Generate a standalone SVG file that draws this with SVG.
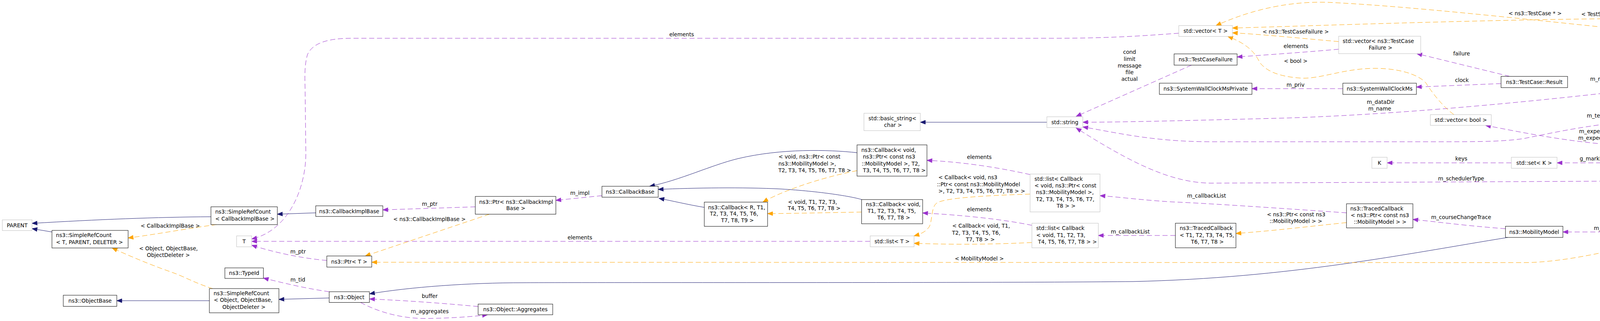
<svg xmlns="http://www.w3.org/2000/svg" width="5416" height="822" viewBox="0 0 5416 822">
<style>
text{font-family:"DejaVu Sans","Liberation Sans",sans-serif;font-size:13.6px;fill:#000}
.m{text-anchor:middle}
rect.b{fill:#fff;stroke:#000;stroke-width:1}
rect.g{fill:#fff;stroke:#bfbfbf;stroke-width:1}
rect.h{fill:#bfbfbf;stroke:#000;stroke-width:1}
path.inh{fill:none;stroke:#191970;stroke-width:1;marker-end:url(#ai)}
path.use{fill:none;stroke:#9a32cd;stroke-width:1;stroke-dasharray:13,7;marker-end:url(#au)}
path.tpl{fill:none;stroke:#ffa500;stroke-width:1;stroke-dasharray:13,7;marker-end:url(#at)}
</style>
<defs>
<marker id="ai" markerWidth="14" markerHeight="11" refX="13" refY="5" orient="auto" markerUnits="userSpaceOnUse" overflow="visible"><path d="M0,0 L13,5 L0,10 z" fill="#191970" stroke="#191970" stroke-width="1" stroke-dasharray="none"/></marker>
<marker id="au" markerWidth="14" markerHeight="11" refX="13" refY="5" orient="auto" markerUnits="userSpaceOnUse" overflow="visible"><path d="M0,0 L13,5 L0,10 z" fill="#9a32cd" stroke="#9a32cd" stroke-width="1" stroke-dasharray="none"/></marker>
<marker id="at" markerWidth="14" markerHeight="11" refX="13" refY="5" orient="auto" markerUnits="userSpaceOnUse" overflow="visible"><path d="M0,0 L13,5 L0,10 z" fill="#ffa500" stroke="#ffa500" stroke-width="1" stroke-dasharray="none"/></marker>
</defs>
<rect x="0" y="0" width="5416" height="822" fill="#fff"/>
<g id="connectors">
<path class="inh" d="M540,555 C400,556 250,562 82,572"/>
<path class="inh" d="M133,594 L82,585.5"/>
<path class="inh" d="M536,770 L299,770"/>
<path class="inh" d="M808.3,545 L710,548.5"/>
<path class="inh" d="M842.7,763 L714,766.6"/>
<path class="inh" d="M2194,391 C2120,383 2000,380 1890,406 C1820,423 1740,462 1663,477"/>
<path class="inh" d="M2206,511 C2180,503 2100,490 2000,484 C1900,479 1780,481 1685,485"/>
<path class="inh" d="M1803,531 C1760,524 1720,514 1687,508"/>
<path class="inh" d="M3860,608 C3600,650 3300,712 2900,721 C2500,725 1500,723 1340,724 C1200,724 1050,735 946,752.5"/>
<path class="inh" d="M4605.7,244 L4343,224.4"/>
<path class="inh" d="M4638,402.7 L4318,229"/>
<path class="inh" d="M4901,417 L4741.7,417"/>
<path class="inh" d="M2680,313 L2356,313"/>

<path class="use" d="M3017.7,85 C2950,90 2850,98 2700,98 L900,98 C840,98 800,110 787,140 C780,165 780,190 781,225 L783,393 C783,480 740,590 644.3,612"/>
<path class="use" d="M2227.7,618 L644.3,618"/>
<path class="use" d="M836.7,667 C790,663 720,652 644.3,628"/>
<path class="use" d="M842.7,747 C790,740 730,726 674.3,712"/>
<path class="use" d="M1216.7,529.6 C1150,532 1050,535 980,537.5"/>
<path class="use" d="M1224,785 C1150,778 1050,770 946,765.6"/>
<path class="use" d="M923,774.5 C970,800 1030,816 1090,815.5 C1150,815 1210,811 1248,806"/>
<path class="use" d="M1541,501 L1423,513"/>
<path class="use" d="M2637,447 C2560,430 2470,415 2373,410.6"/>
<path class="use" d="M2641.7,577 C2560,560 2450,550 2362,545.4"/>
<path class="use" d="M3050,166.8 L2755,298"/>
<path class="use" d="M4224,225 C3950,258 3600,292 3300,302 C3000,310 2850,313 2772,313"/>
<path class="use" d="M5287,249.6 C5200,272 5100,296 4950,299 L4400,299 C4150,300 4000,335 3900,355 C3850,362 3800,363 3700,363 L3100,363 C2950,363 2850,338 2772,325"/>
<path class="use" d="M4605,431 C4520,450 4450,460 4300,463 L3100,469 C3000,468 2900,420 2755,327.7"/>
<path class="use" d="M3447,545 C3300,535 3100,521 3000,517 C2920,512 2870,505 2816,501"/>
<path class="use" d="M3009,603 L2811.7,603"/>
<path class="use" d="M3427,126 C3350,133 3250,140 3167,145.8"/>
<path class="use" d="M3437.7,227 L3205,227"/>
<path class="use" d="M3865,195.6 L3627,137.4"/>
<path class="use" d="M3842.7,214 L3626,222.9"/>
<path class="use" d="M4589,404 C4500,395 4420,385 4193,375 C4050,368 3950,350 3803,321"/>
<path class="use" d="M3869,417 L3551,417"/>
<path class="use" d="M4239,417 L3986,417"/>
<path class="use" d="M4589,417 L4328,417"/>
<path class="use" d="M3854,585.7 C3750,578 3680,568 3617,562"/>
<path class="use" d="M4184,594 L4001,594"/>
<path class="use" d="M4645,431 C4600,460 4520,510 4420,550 L4330,579.4"/>
<path class="use" d="M4547,127.4 C4470,140 4400,160 4307,200.8"/>
<path class="use" d="M4312,200.8 C4312,186 4300,176 4285,176 C4268,176 4252,185 4252,200.8"/>
<path class="use" d="M4343,206 C4430,188 4530,160 4628,137.4"/>
<path class="use" d="M4343,212.4 C4500,209 4700,206 4900,206 C5050,206 5150,210 5275,221"/>
<path class="use" d="M4916,246.5 C4850,248 4790,250 4725,250.7"/>
<path class="use" d="M5251,235 L5121,235"/>

<path class="tpl" d="M555,575 C480,585 400,600 328,609.4"/>
<path class="tpl" d="M545,739.4 C500,725 470,708 445,699 C390,680 330,655 287,635"/>
<path class="tpl" d="M1253,548.5 L935,655.5"/>
<path class="tpl" d="M4247,608 C4150,640 4000,672.5 3900,672.5 L951.7,671.5"/>
<path class="tpl" d="M2194,437 C2100,455 2000,490 1953,517.6"/>
<path class="tpl" d="M2205.7,543 C2100,545 2000,547 1965,547"/>
<path class="tpl" d="M2637,497 C2550,500 2420,505 2398,520 C2383,530 2387,570 2378,582 C2368,595 2355,600 2340,604"/>
<path class="tpl" d="M2641.7,621 C2520,627 2420,626 2340,623"/>
<path class="tpl" d="M3447,570 C3350,580 3250,592 3164,597.8"/>
<path class="tpl" d="M4547,112 C4200,85 3700,20 3400,6 C3280,2 3180,35 3113,65.5"/>
<path class="tpl" d="M4916,238.6 C4860,228 4820,215 4805,200 C4790,185 4797,150 4797,120 C4797,85 4740,65 4633,55 C4500,45 4300,45 3960,50 C3600,57 3300,68 3155,71.8"/>
<path class="tpl" d="M3427,106.5 C3330,98 3230,88 3155,84"/>
<path class="tpl" d="M3722,293.6 C3690,270 3665,235 3650,212 C3630,190 3580,175 3520,175 C3440,175 3380,203 3330,200 C3270,196 3240,180 3225,160 C3215,140 3200,115 3143,93.3"/>

<text x="360" y="583">&lt; CallbackImplBase &gt;</text>
<text x="356" y="640.5">&lt; Object, ObjectBase,</text>
<text x="376" y="658">ObjectDeleter &gt;</text>
<text class="m" x="1745" y="92.5">elements</text>
<text class="m" x="1484.5" y="612.8">elements</text>
<text class="m" x="763" y="649">m_ptr</text>
<text class="m" x="762.5" y="721">m_tid</text>
<text class="m" x="1100" y="526.5">m_ptr</text>
<text class="m" x="1099.5" y="566">&lt; ns3::CallbackImplBase &gt;</text>
<text class="m" x="1100" y="762.5">buffer</text>
<text class="m" x="1100" y="802">m_aggregates</text>
<text class="m" x="1484.5" y="499">m_impl</text>
<text x="1993" y="406">&lt; void, ns3::Ptr&lt; const</text>
<text x="1992.7" y="423.5">ns3::MobilityModel &gt;,</text>
<text x="1992.7" y="441">T2, T3, T4, T5, T6, T7, T8 &gt;</text>
<text x="2017.3" y="521.5">&lt; void, T1, T2, T3,</text>
<text x="2016.7" y="538">T4, T5, T6, T7, T8 &gt;</text>
<text class="m" x="2507" y="407">elements</text>
<text x="2402.3" y="458.6">&lt; Callback&lt; void, ns3</text>
<text x="2398.7" y="477">::Ptr&lt; const ns3::MobilityModel</text>
<text x="2402.3" y="493.7">&gt;, T2, T3, T4, T5, T6, T7, T8 &gt; &gt;</text>
<text class="m" x="2507" y="541">elements</text>
<text x="2437.7" y="583">&lt; Callback&lt; void, T1,</text>
<text x="2437.3" y="601">T2, T3, T4, T5, T6,</text>
<text x="2472.7" y="617.5">T7, T8 &gt; &gt;</text>
<text class="m" x="2507" y="667">&lt; MobilityModel &gt;</text>
<text class="m" x="2891.7" y="137.7">cond</text>
<text class="m" x="2891.7" y="155.5">limit</text>
<text class="m" x="2891.7" y="172.8">message</text>
<text class="m" x="2891.7" y="190">file</text>
<text class="m" x="2891.7" y="207.4">actual</text>
<text x="3039" y="505.6">m_callbackList</text>
<text class="m" x="2893.5" y="597.5">m_callbackList</text>
<text class="m" x="3317" y="86">&lt; ns3::TestCaseFailure &gt;</text>
<text class="m" x="3317.5" y="123">elements</text>
<text class="m" x="3317" y="161">&lt; bool &gt;</text>
<text class="m" x="3316.5" y="221.5">m_priv</text>
<text x="3499" y="265.5">m_dataDir</text>
<text x="3502.7" y="283">m_name</text>
<text x="3243.3" y="554">&lt; ns3::Ptr&lt; const ns3</text>
<text x="3250" y="570.8">::MobilityModel &gt; &gt;</text>
<text x="3861.7" y="39">&lt; ns3::TestCase * &gt;</text>
<text class="m" x="3741.7" y="142">failure</text>
<text class="m" x="3742.5" y="209.5">clock</text>
<text class="m" x="3741" y="411.4">keys</text>
<text class="m" x="3740.5" y="462">m_schedulerType</text>
<text class="m" x="3740.5" y="560.6">m_courseChangeTrace</text>
<text class="m" x="4100" y="40.7">&lt; TestSuite * &gt;</text>
<text class="m" x="4100" y="207">m_result</text>
<text class="m" x="4100" y="301">m_tempDir</text>
<text class="m" x="4100" y="340.5">m_expectedUlRb</text>
<text class="m" x="4098" y="358">m_expectedDlRb</text>
<text class="m" x="4100" y="411.4">g_markingTimes</text>
<text class="m" x="4100" y="588.5">m_ptr</text>
<text class="m" x="4285" y="170.5">m_parent</text>
<text class="m" x="4467.5" y="125.5">elements</text>
<text class="m" x="4466.7" y="165">m_children</text>
<text class="m" x="4467" y="410">m_teleportTime</text>
<text class="m" x="4467" y="499">m_ueMobility</text>
<text class="m" x="4844.7" y="201.5">m_runner</text>
<text class="m" x="4844" y="244.5">elements</text>
<text class="m" x="5195" y="229">m_suites</text>
</g>

<g id="n-parent"><rect class="g" x="6" y="563" width="76" height="27.5"/><text class="m" x="44" y="581.5">PARENT</text></g>
<g id="n-srcount-tpd"><rect class="b" x="133" y="590" width="195" height="45"/><text x="143.3" y="607">ns3::SimpleRefCount</text><text x="143.3" y="625.3">&lt; T, PARENT, DELETER &gt;</text></g>
<g id="n-objectbase"><rect class="b" x="162" y="756" width="137" height="28.5"/><text class="m" x="230.5" y="775">ns3::ObjectBase</text></g>
<g id="n-srcount-cib"><rect class="b" x="540" y="529.6" width="170" height="45.6"/><text x="551" y="546.7">ns3::SimpleRefCount</text><text x="551" y="565">&lt; CallbackImplBase &gt;</text></g>
<g id="n-t"><rect class="g" x="605.7" y="604" width="38.6" height="28"/><text class="m" x="625" y="622.8">T</text></g>
<g id="n-typeid"><rect class="b" x="575.7" y="686" width="98.6" height="27"/><text class="m" x="625" y="704.3">ns3::TypeId</text></g>
<g id="n-srcount-obj"><rect class="b" x="536" y="739" width="178" height="62"/><text x="546.7" y="756">ns3::SimpleRefCount</text><text x="547.3" y="773">&lt; Object, ObjectBase,</text><text x="569.3" y="791">ObjectDeleter &gt;</text></g>
<g id="n-cbimplbase"><rect class="b" x="808.3" y="527" width="171.7" height="27.3"/><text class="m" x="894" y="545.5">ns3::CallbackImplBase</text></g>
<g id="n-ptr-t"><rect class="b" x="836.7" y="655.5" width="115" height="28.5"/><text class="m" x="894" y="674.5">ns3::Ptr&lt; T &gt;</text></g>
<g id="n-object"><rect class="b" x="842.7" y="747" width="103" height="27.5"/><text class="m" x="894" y="765.5">ns3::Object</text></g>
<g id="n-ptr-cib"><rect class="b" x="1216.7" y="503" width="206.3" height="45.5"/><text x="1226.7" y="521.5">ns3::Ptr&lt; ns3::CallbackImpl</text><text x="1296" y="538">Base &gt;</text></g>
<g id="n-aggregates"><rect class="b" x="1224" y="778.7" width="191" height="27.3"/><text class="m" x="1319.5" y="797">ns3::Object::Aggregates</text></g>
<g id="n-callbackbase"><rect class="b" x="1541" y="477" width="144" height="28"/><text class="m" x="1613" y="495.8">ns3::CallbackBase</text></g>
<g id="n-callback-r"><rect class="b" x="1803" y="517.6" width="162" height="62"/><text x="1812.7" y="535.7">ns3::Callback&lt; R, T1,</text><text x="1817.3" y="552">T2, T3, T4, T5, T6,</text><text x="1846" y="568.7">T7, T8, T9 &gt;</text></g>
<g id="n-callback-ptr"><rect class="b" x="2194" y="371" width="179" height="80"/><text x="2205" y="389">ns3::Callback&lt; void,</text><text x="2209" y="406">ns3::Ptr&lt; const ns3</text><text x="2205.7" y="423.5">::MobilityModel &gt;, T2,</text><text x="2209" y="440.8">T3, T4, T5, T6, T7, T8 &gt;</text></g>
<g id="n-callback-t1"><rect class="b" x="2205.7" y="511" width="156.3" height="62"/><text x="2216.7" y="528">ns3::Callback&lt; void,</text><text x="2221" y="545">T1, T2, T3, T4, T5,</text><text x="2246" y="562.4">T6, T7, T8 &gt;</text></g>
<g id="n-basic-string"><rect class="g" x="2211.7" y="290" width="144.3" height="44.6"/><text x="2223.3" y="307.6">std::basic_string&lt;</text><text x="2263.3" y="325">char &gt;</text></g>
<g id="n-list-t"><rect class="g" x="2227.7" y="604" width="112.3" height="28"/><text class="m" x="2283.8" y="622.8">std::list&lt; T &gt;</text></g>
<g id="n-string"><rect class="g" x="2680" y="299" width="92" height="27.7"/><text class="m" x="2726" y="317.6">std::string</text></g>
<g id="n-list-cb-ptr"><rect class="g" x="2637" y="445.7" width="179" height="97"/><text x="2648.3" y="462.8">std::list&lt; Callback</text><text x="2648.3" y="480">&lt; void, ns3::Ptr&lt; const</text><text x="2652.3" y="497">ns3::MobilityModel &gt;,</text><text x="2652.3" y="514.7">T2, T3, T4, T5, T6, T7,</text><text x="2705" y="532">T8 &gt; &gt;</text></g>
<g id="n-list-cb-t1"><rect class="g" x="2641.7" y="571.6" width="170" height="63"/><text x="2652.7" y="588.6">std::list&lt; Callback</text><text x="2652.7" y="606.5">&lt; void, T1, T2, T3,</text><text x="2657.3" y="623.8">T4, T5, T6, T7, T8 &gt; &gt;</text></g>
<g id="n-vector-t"><rect class="g" x="3017.7" y="65.5" width="137.3" height="27.8"/><text class="m" x="3086.3" y="84.2">std::vector&lt; T &gt;</text></g>
<g id="n-testcasefailure"><rect class="b" x="3005.7" y="138" width="161.3" height="28.8"/><text class="m" x="3086.3" y="157.2">ns3::TestCaseFailure</text></g>
<g id="n-swcms-private"><rect class="b" x="2968" y="213" width="237" height="28.7"/><text class="m" x="3086.5" y="232.2">ns3::SystemWallClockMsPrivate</text></g>
<g id="n-traced-t1"><rect class="b" x="3009" y="571.6" width="155" height="63"/><text x="3020" y="588.6">ns3::TracedCallback</text><text x="3020" y="606.5">&lt; T1, T2, T3, T4, T5,</text><text x="3049" y="623.8">T6, T7, T8 &gt;</text></g>
<g id="n-vector-tcf"><rect class="g" x="3427" y="92.8" width="210" height="44.6"/><text x="3437.3" y="109.9">std::vector&lt; ns3::TestCase</text><text x="3504" y="127">Failure &gt;</text></g>
<g id="n-swcms"><rect class="b" x="3437.7" y="213" width="188.3" height="28.7"/><text class="m" x="3531.8" y="232.2">ns3::SystemWallClockMs</text></g>
<g id="n-k"><rect class="g" x="3512" y="402.7" width="39" height="28.3"/><text class="m" x="3531.5" y="421.7">K</text></g>
<g id="n-traced-ptr"><rect class="b" x="3447" y="521.8" width="170" height="61.8"/><text x="3456.7" y="538.8">ns3::TracedCallback</text><text x="3457.7" y="555.6">&lt; ns3::Ptr&lt; const ns3</text><text x="3465.7" y="573">::MobilityModel &gt; &gt;</text></g>
<g id="n-result"><rect class="b" x="3842.7" y="195.6" width="170.3" height="28.8"/><text class="m" x="3927.8" y="214.8">ns3::TestCase::Result</text></g>
<g id="n-vector-bool"><rect class="g" x="3661.7" y="293.6" width="156" height="27.4"/><text class="m" x="3739.7" y="312.1">std::vector&lt; bool &gt;</text></g>
<g id="n-set-k"><rect class="g" x="3869" y="402.7" width="117" height="28.3"/><text class="m" x="3927.5" y="421.7">std::set&lt; K &gt;</text></g>
<g id="n-mobilitymodel"><rect class="b" x="3854" y="579.4" width="147" height="28.6"/><text class="m" x="3927.5" y="598.5">ns3::MobilityModel</text></g>
<g id="n-testcase"><rect class="b" x="4224" y="200.8" width="119" height="28.2"/><text class="m" x="4283.5" y="219.7">ns3::TestCase</text></g>
<g id="n-time"><rect class="b" x="4239" y="402.7" width="89" height="28.3"/><text class="m" x="4283.5" y="421.7">ns3::Time</text></g>
<g id="n-ptr-mm"><rect class="b" x="4184" y="579.4" width="199" height="28.6"/><text class="m" x="4283.5" y="598.5">ns3::Ptr&lt; MobilityModel &gt;</text></g>
<g id="n-vector-testcase"><rect class="g" x="4547" y="109" width="236" height="28.4"/><text class="m" x="4665" y="128">std::vector&lt; ns3::TestCase * &gt;</text></g>
<g id="n-testsuite"><rect class="b" x="4605.7" y="233" width="119.3" height="28"/><text class="m" x="4665.3" y="251.8">ns3::TestSuite</text></g>
<g id="n-ltefrarea"><rect class="b" x="4589" y="402.7" width="152.7" height="28.3"/><text class="m" x="4665.3" y="421.7">LteFrAreaTestCase</text></g>
<g id="n-vector-testsuite"><rect class="g" x="4916" y="221" width="205" height="28.6"/><text class="m" x="5018.5" y="240.1">std::vector&lt; TestSuite * &gt;</text></g>
<g id="n-testrunnerimpl"><rect class="b" x="5251" y="221" width="159" height="28.6"/><text class="m" x="5330.5" y="240.1">ns3::TestRunnerImpl</text></g>
<g id="n-ltedistributed"><rect class="h" x="4901" y="402.7" width="235" height="28.3"/><text class="m" x="5018.5" y="421.7">LteDistributedFfrAreaTestCase</text></g>
</svg>
